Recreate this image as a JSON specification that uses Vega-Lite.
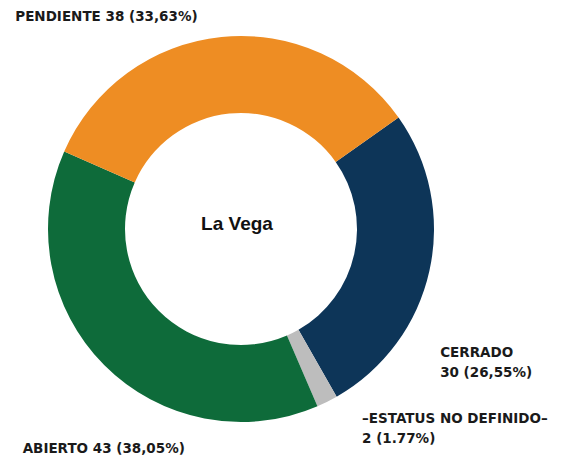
{
  "$schema": "https://vega.github.io/schema/vega-lite/v6.json",
  "width": 482,
  "height": 458,
  "autosize": {"type": "none"},
  "padding": {"left": 0, "top": 0, "right": 89, "bottom": 0},
  "background": "white",
  "config": {"view": {"stroke": null}},
  "data": {
    "values": [
      {"estatus": "CERRADO", "casos": 30, "orden": 1, "etiqueta": "CERRADO\n30 (26,55%)"},
      {"estatus": "ESTATUS NO DEFINIDO", "casos": 2, "orden": 2, "etiqueta": "–ESTATUS NO DEFINIDO–\n2 (1.77%)"},
      {"estatus": "ABIERTO", "casos": 43, "orden": 3, "etiqueta": "ABIERTO 43 (38,05%)"},
      {"estatus": "PENDIENTE", "casos": 38, "orden": 4, "etiqueta": "PENDIENTE 38 (33,63%)"}
    ]
  },
  "encoding": {
    "theta": {"field": "casos", "type": "quantitative", "stack": true, "scale": {"range": [0.955, 7.2382]}},
    "order": {"field": "orden", "type": "ordinal"}
  },
  "layer": [
    {
      "mark": {"type": "arc", "innerRadius": 116, "outerRadius": 193},
      "encoding": {
        "color": {
          "field": "estatus",
          "type": "nominal",
          "legend": null,
          "scale": {
            "domain": ["CERRADO", "ESTATUS NO DEFINIDO", "ABIERTO", "PENDIENTE"],
            "range": ["#0D3558", "#BDBDBD", "#0E6B3A", "#EE8D23"]
          }
        }
      }
    },
    {
      "mark": {
        "type": "text",
        "radius": 205,
        "font": "DejaVu Sans",
        "fontWeight": "bold",
        "fontSize": 13.5,
        "lineBreak": "\n",
        "lineHeight": 20,
        "align": "left",
        "baseline": "alphabetic",
        "color": "#1a1a1a",
        "dx": {"expr": "datum.estatus == 'CERRADO' ? -1 : datum.estatus == 'PENDIENTE' ? -205 : datum.estatus == 'ABIERTO' ? -73 : 29.5"},
        "dy": {"expr": "datum.estatus == 'CERRADO' ? 84 : datum.estatus == 'PENDIENTE' ? -4 : datum.estatus == 'ABIERTO' ? 79 : 10.5"}
      },
      "encoding": {
        "text": {"field": "etiqueta", "type": "nominal"}
      }
    },
    {
      "data": {"values": [{"municipio": "La Vega"}]},
      "mark": {
        "type": "text",
        "font": "Liberation Sans",
        "fontWeight": "bold",
        "fontSize": 19,
        "align": "center",
        "baseline": "alphabetic",
        "color": "#111111",
        "dx": -4,
        "dy": 1
      },
      "encoding": {
        "theta": null,
        "order": null,
        "text": {"field": "municipio", "type": "nominal"}
      }
    }
  ]
}
